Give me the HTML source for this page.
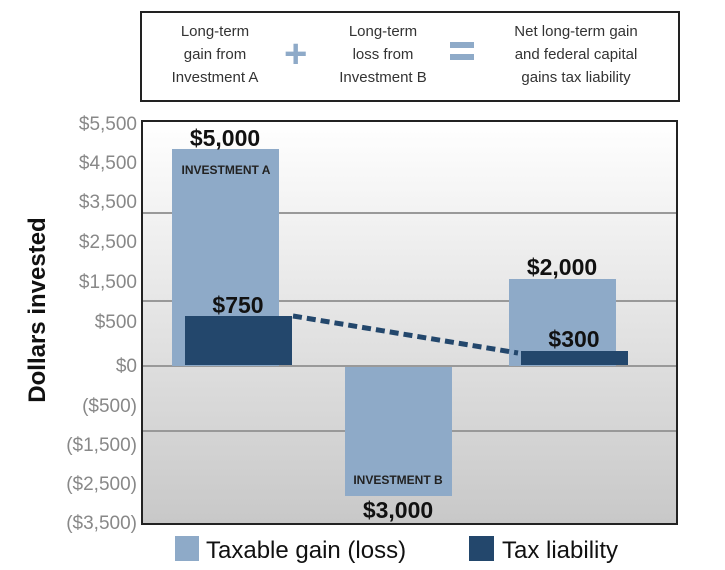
<html><body style="margin:0;width:725px;height:570px;background:#fff;font-family:'Liberation Sans',sans-serif;position:relative;overflow:hidden">
<div style="position:absolute;left:140px;top:11px;width:536px;height:87px;border:2px solid #222;"></div>
<div style="position:absolute;left:150px;top:20px;width:130px;text-align:center;font-size:15px;line-height:23px;color:#333">Long-term<br>gain from<br>Investment A</div>
<div style="position:absolute;left:284px;top:34px;font-size:40px;line-height:40px;color:#8eaac8;font-weight:bold">+</div>
<div style="position:absolute;left:318px;top:20px;width:130px;text-align:center;font-size:15px;line-height:23px;color:#333">Long-term<br>loss from<br>Investment B</div>
<div style="position:absolute;left:450px;top:42px;width:24px;height:6px;background:#8eaac8"></div>
<div style="position:absolute;left:450px;top:54px;width:24px;height:6px;background:#8eaac8"></div>
<div style="position:absolute;left:478px;top:20px;width:196px;text-align:center;font-size:15px;line-height:23px;color:#333">Net long-term gain<br>and federal capital<br>gains tax liability</div>
<svg width="725" height="570" style="position:absolute;left:0;top:0">
<defs><linearGradient id="g" x1="0" y1="0" x2="0" y2="1"><stop offset="0" stop-color="#fff"/><stop offset="1" stop-color="#c8c8c8"/></linearGradient></defs>
<rect x="142" y="121" width="535" height="403" fill="url(#g)" stroke="#222" stroke-width="2"/>
<g stroke="#999" stroke-width="2"><line x1="143" y1="213" x2="676" y2="213"/><line x1="143" y1="301" x2="676" y2="301"/><line x1="143" y1="366" x2="676" y2="366"/><line x1="143" y1="431" x2="676" y2="431"/></g>
<rect x="172" y="149" width="107" height="217" fill="#8eaac8"/>
<rect x="185" y="316" width="107" height="49" fill="#23476c"/>
<rect x="345" y="367" width="107" height="129" fill="#8eaac8"/>
<rect x="509" y="279" width="107" height="87" fill="#8eaac8"/>
<rect x="521" y="351" width="107" height="14" fill="#23476c"/>
<line x1="293" y1="316" x2="518" y2="353" stroke="#23476c" stroke-width="5" stroke-dasharray="9,5"/>
<g font-size="19" fill="#888" text-anchor="end" font-family="Liberation Sans">
<text x="137" y="130">$5,500</text><text x="137" y="169">$4,500</text><text x="137" y="208">$3,500</text><text x="137" y="248">$2,500</text><text x="137" y="288">$1,500</text><text x="137" y="328">$500</text><text x="137" y="372">$0</text><text x="137" y="412">($500)</text><text x="137" y="451">($1,500)</text><text x="137" y="490">($2,500)</text><text x="137" y="529">($3,500)</text></g>
<g font-size="23" font-weight="bold" fill="#111" text-anchor="middle">
<text x="225" y="146">$5,000</text><text x="238" y="313">$750</text><text x="398" y="518">$3,000</text><text x="562" y="275">$2,000</text><text x="574" y="347">$300</text></g>
<g font-size="12" font-weight="bold" fill="#222" text-anchor="middle"><text x="226" y="174">INVESTMENT A</text><text x="398" y="484">INVESTMENT B</text></g>
<text transform="translate(45,310) rotate(-90)" text-anchor="middle" font-size="24" font-weight="bold" fill="#111">Dollars invested</text>
<rect x="175" y="536" width="24" height="25" fill="#8eaac8"/>
<text x="206" y="558" font-size="24" fill="#111">Taxable gain (loss)</text>
<rect x="469" y="536" width="25" height="25" fill="#23476c"/>
<text x="502" y="558" font-size="24" fill="#111">Tax liability</text>
</svg>
</body></html>
